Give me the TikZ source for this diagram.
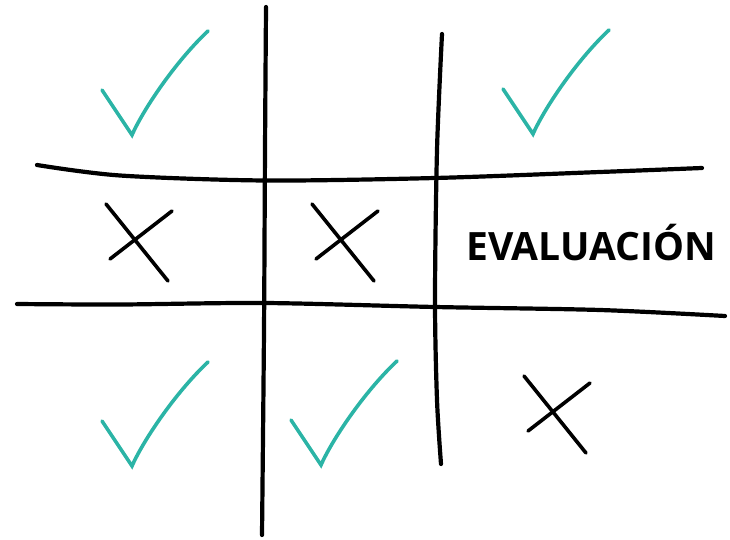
\documentclass[tikz,border=0pt]{standalone}
\usepackage{fontspec}
\setmainfont{Open Sans}
\begin{document}
\begin{tikzpicture}[x=1pt,y=-1pt,
  gridline/.style={line width=4.2pt,line cap=round,black},
  tickline/.style={line width=3.6pt,line cap=round,line join=miter,draw=tealc},
  crossline/.style={line width=3.6pt,line cap=round,black},
  tickmark/.pic={\draw[tickline] (-30,-45) -- (0,0) .. controls (11,-25) and (43,-73) .. (76,-104);},
  crossmark/.pic={\draw[crossline] (0,0) -- (62,77); \draw[crossline] (4,55) -- (66,7);}
]
\definecolor{tealc}{RGB}{43,180,166}
\useasboundingbox (0,0) rectangle (730,540);
% grid
\draw[gridline] plot[smooth] coordinates {(37,165) (120,175.5) (265,180.5) (435,178) (600,172) (702,168)};
\draw[gridline] plot[smooth] coordinates {(17,304) (120,304.5) (265,303) (435,307) (600,310) (725,316)};
\draw[gridline] plot[smooth] coordinates {(266,7) (265,150) (264,330) (262,535)};
\draw[gridline] plot[smooth] coordinates {(442,34) (437,150) (435,300) (437,400) (441,464)};
% ticks
\pic at (132,135) {tickmark};
\pic at (533,134) {tickmark};
\pic at (132,466) {tickmark};
\pic at (321,465) {tickmark};
% crosses
\pic at (106,204) {crossmark};
\pic at (312,204) {crossmark};
\pic at (524,376) {crossmark};
% label
\node[anchor=base west,inner sep=0pt,font=\fontsize{39}{39}\selectfont\bfseries] (label) at (466,260) {EVALUACIÓN};
\end{tikzpicture}
\end{document}
